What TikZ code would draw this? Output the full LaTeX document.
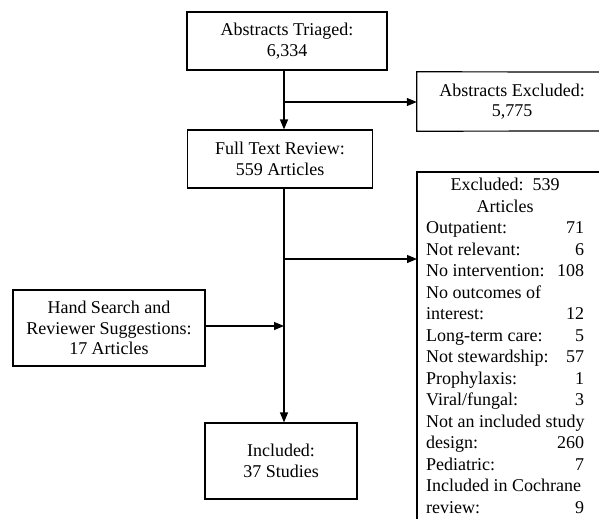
\documentclass[tikz,border=0pt]{standalone}
\usepackage{fontspec}
\setmainfont{Liberation Serif}
\usetikzlibrary{arrows.meta}
\newcommand\exrow[2]{\makebox[158pt][l]{#1\hfill#2}}
\begin{document}
\begin{tikzpicture}[x=1pt,y=-1pt,
  lbl/.style={align=center, inner sep=0pt, font=\fontsize{18}{20.5}\selectfont},
  box/.style={lbl, draw, line width=1.2pt},
  ln/.style={line width=1.2pt},
  arr/.style={line width=1.2pt, -{Triangle[length=10pt,width=8pt]}}]
\useasboundingbox (0,0) rectangle (599,519);
% boxes
\node[box, minimum width=200pt, minimum height=58pt] (tri) at (287,41) {Abstracts Triaged:\\6,334};
\node[lbl, minimum width=190pt, minimum height=59pt] (exA) at (512,101.5) {Abstracts Excluded:\\5,775};
\draw[ln] (599,72) -- (exA.north west) -- (exA.south west) -- (599,131);
\node[box, minimum width=185pt, minimum height=58pt] (ftr) at (280,159) {Full Text Review:\\559 Articles};
\node[box, minimum width=192pt, minimum height=76pt] (hand) at (109,328) {Hand Search and\\Reviewer Suggestions:\\17 Articles};
\node[box, minimum width=152pt, minimum height=76pt] (inc) at (281,461) {Included:\\37 Studies};
\node[lbl, anchor=north west, minimum width=190pt, minimum height=350pt] (excl) at (417,172) {};
\draw[ln] (599,172) -- (excl.north west) -- (417,519);
\node[lbl, align=left, anchor=north west, font=\fontsize{18}{21.5}\selectfont] (exclt) at (426,178) {%
\makebox[158pt][c]{Excluded:\ \ 539}\\
\makebox[158pt][c]{Articles}\\
\exrow{Outpatient:}{71}\\
\exrow{Not relevant:}{6}\\
\exrow{No intervention:}{108}\\
\exrow{No outcomes of}{}\\
\exrow{interest:}{12}\\
\exrow{Long-term care:}{5}\\
\exrow{Not stewardship:}{57}\\
\exrow{Prophylaxis:}{1}\\
\exrow{Viral/fungal:}{3}\\
Not an included study\\
\exrow{design:}{260}\\
\exrow{Pediatric:}{7}\\
Included in Cochrane\\
\exrow{review:}{9}};
% connectors
\coordinate (j1) at (284,102);
\coordinate (j2) at (284,259);
\coordinate (j3) at (284,326);
\draw[ln] (j1 |- tri.south) -- (j1);
\draw[arr] (j1) -- (j1 |- ftr.north);
\draw[arr] (j1) -- (j1 -| exA.west);
\draw[arr] (j2 |- ftr.south) -- (j2 |- inc.north);
\draw[arr] (j2) -- (j2 -| excl.west);
\draw[arr] (hand.east |- j3) -- (j3);
\end{tikzpicture}
\end{document}
